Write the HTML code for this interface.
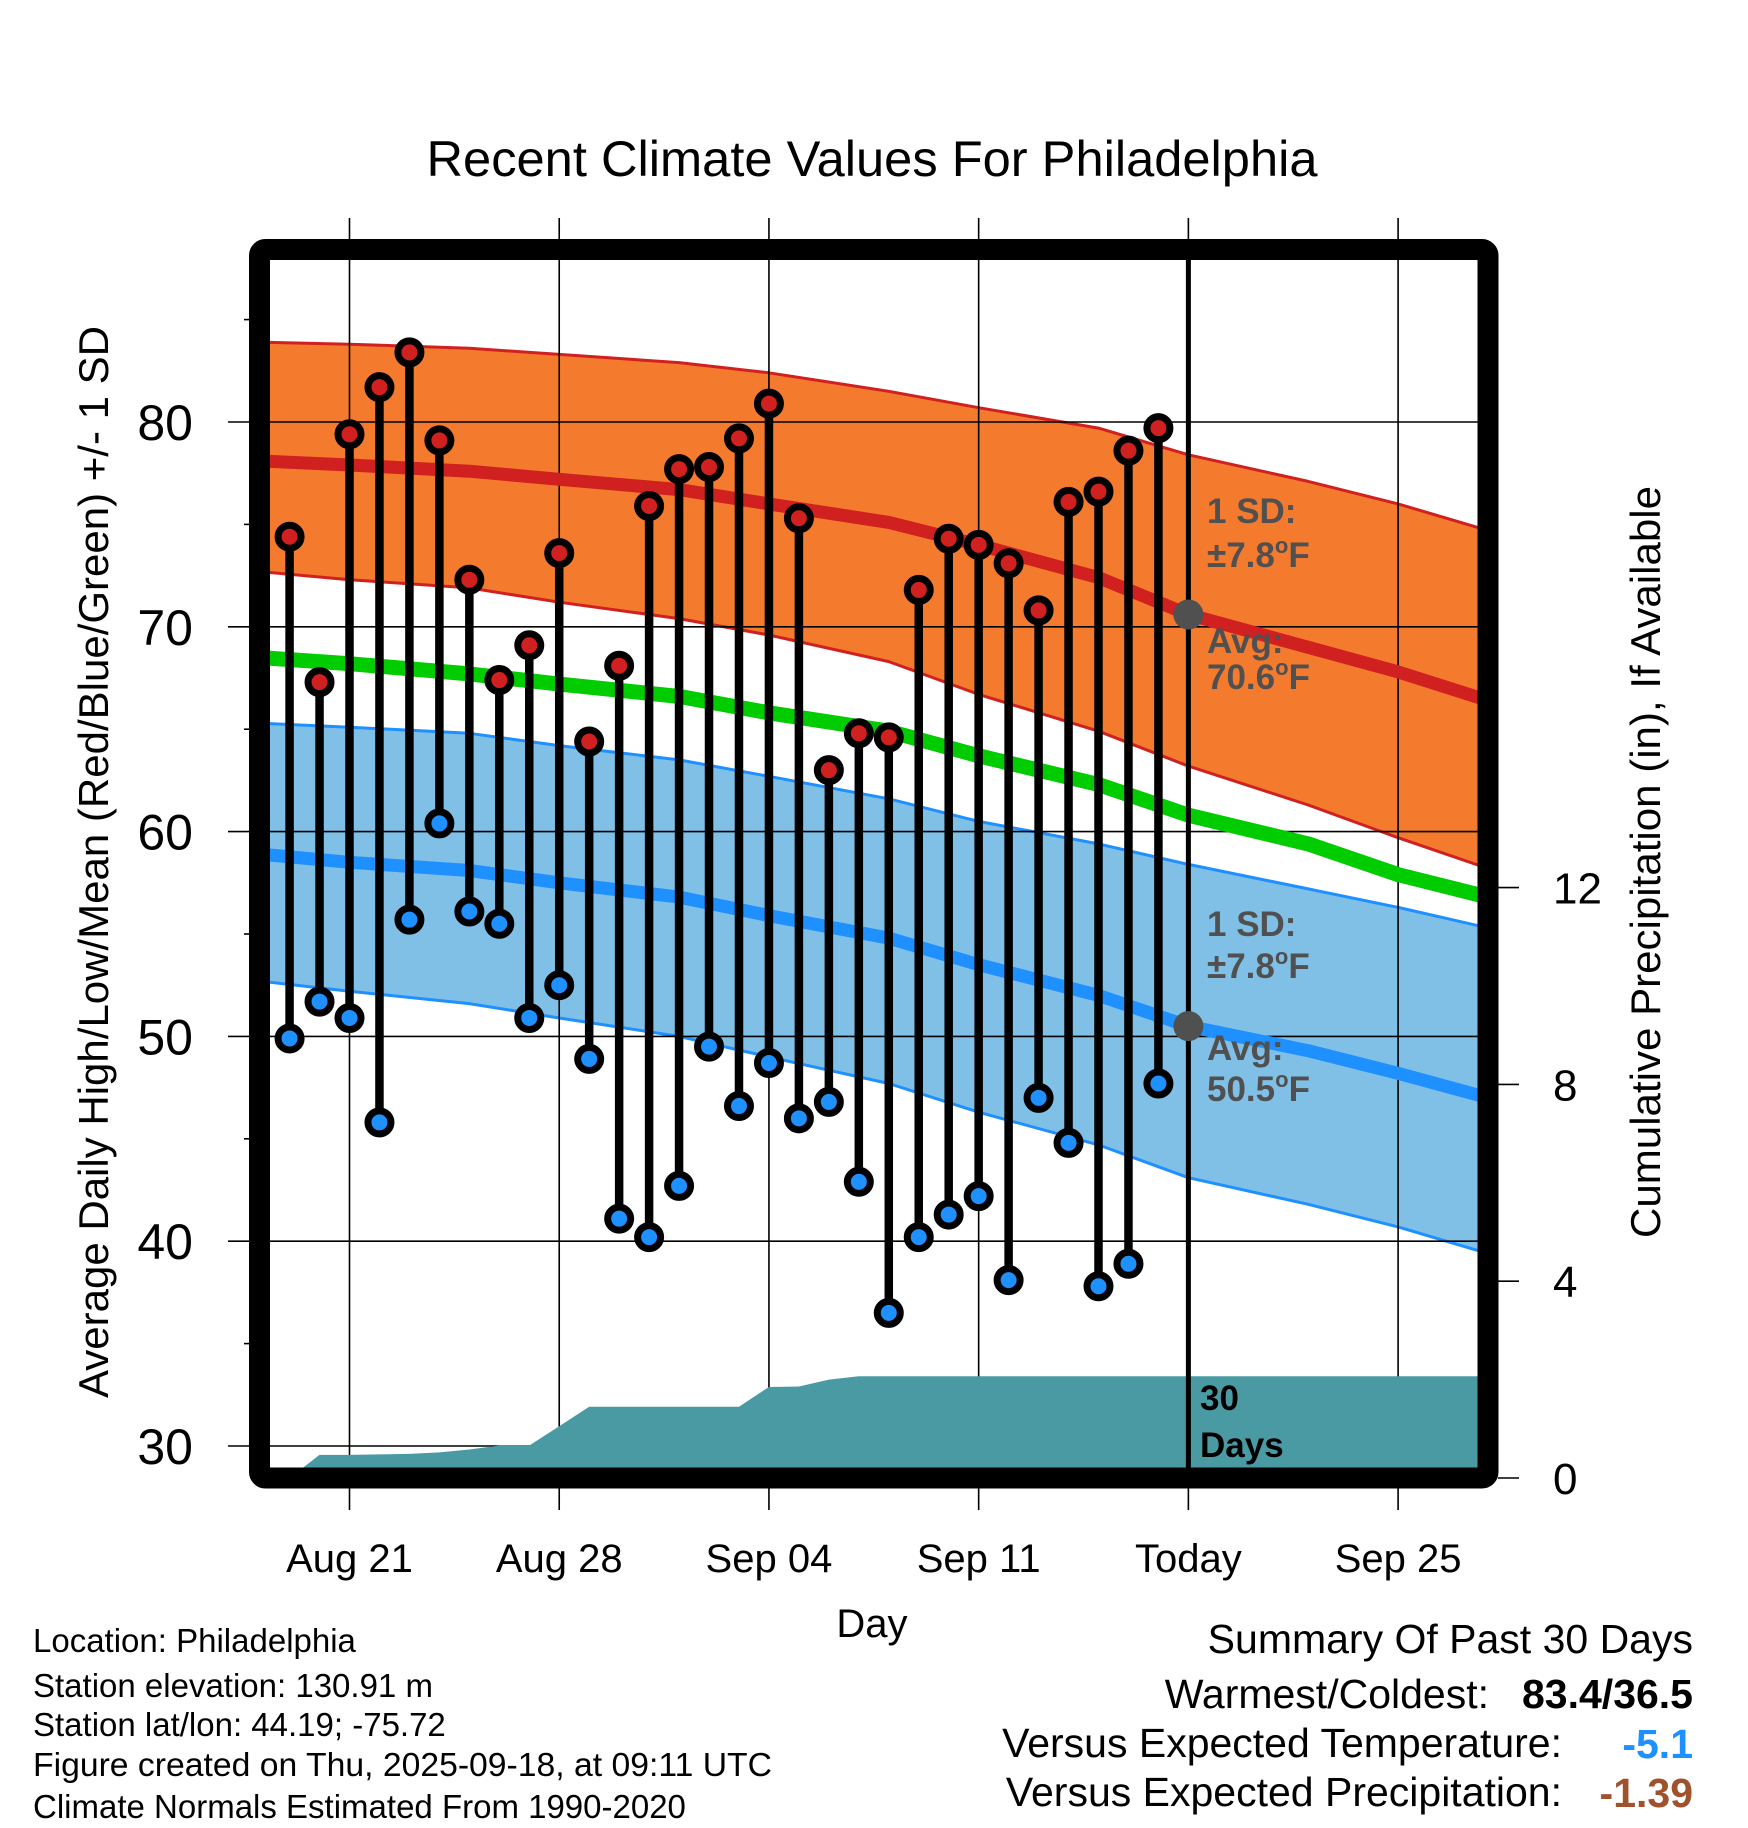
<!DOCTYPE html>
<html><head><meta charset="utf-8"><style>
html,body{margin:0;padding:0;background:#fff;}
svg{display:block;font-family:"Liberation Sans",Arial,sans-serif;}
</style></head><body>
<svg id="chart" width="1748" height="1828" viewBox="0 0 1748 1828" xmlns="http://www.w3.org/2000/svg">
<defs><clipPath id="plotclip"><rect x="270" y="260" width="1208" height="1208"/></clipPath></defs>
<text x="872" y="176" font-size="50" text-anchor="middle" textLength="891" lengthAdjust="spacingAndGlyphs">Recent Climate Values For Philadelphia</text>
<g id="bg" clip-path="url(#plotclip)"></g>
<g id="grid"></g>
<g id="fg" clip-path="url(#plotclip)"></g>
<g id="axes"></g>
<g id="marks"></g>
<g font-weight="bold" font-size="35" fill="#505050">
<text x="1207" y="523">1 SD:</text>
<text x="1207" y="567">±7.8<tspan font-size="22" dy="-14">o</tspan><tspan dy="14">F</tspan></text>
<text x="1207" y="653">Avg:</text>
<text x="1207" y="689">70.6<tspan font-size="22" dy="-14">o</tspan><tspan dy="14">F</tspan></text>
<text x="1207" y="936">1 SD:</text>
<text x="1207" y="978">±7.8<tspan font-size="22" dy="-14">o</tspan><tspan dy="14">F</tspan></text>
<text x="1207" y="1060">Avg:</text>
<text x="1207" y="1101">50.5<tspan font-size="22" dy="-14">o</tspan><tspan dy="14">F</tspan></text>
<text x="1200" y="1410" fill="#000">30</text>
<text x="1200" y="1457" fill="#000">Days</text>
</g>
<rect x="259.5" y="249.5" width="1228.5" height="1228.5" rx="6" fill="none" stroke="#000" stroke-width="21"/>
<text transform="translate(108,862) rotate(-90)" font-size="42" text-anchor="middle" textLength="1072" lengthAdjust="spacingAndGlyphs">Average Daily High/Low/Mean (Red/Blue/Green) +/- 1 SD</text>
<text transform="translate(1660,862) rotate(-90)" font-size="42" text-anchor="middle" textLength="752" lengthAdjust="spacingAndGlyphs">Cumulative Precipitation (in), If Available</text>
<text x="872" y="1637" font-size="40" text-anchor="middle">Day</text>
<g font-size="33">
<text x="33" y="1652">Location: Philadelphia</text>
<text x="33" y="1697">Station elevation: 130.91 m</text>
<text x="33" y="1736">Station lat/lon: 44.19; -75.72</text>
<text x="33" y="1776" textLength="739" lengthAdjust="spacingAndGlyphs">Figure created on Thu, 2025-09-18, at 09:11 UTC</text>
<text x="33" y="1818">Climate Normals Estimated From 1990-2020</text>
</g>
<g font-size="41">
<text x="1693" y="1653" text-anchor="end">Summary Of Past 30 Days</text>
<text x="1489" y="1708" text-anchor="end">Warmest/Coldest:</text>
<text x="1693" y="1708" text-anchor="end" font-weight="bold">83.4/36.5</text>
<text x="1562" y="1757" text-anchor="end">Versus Expected Temperature:</text>
<text x="1693" y="1758" text-anchor="end" font-weight="bold" fill="#1e90ff">-5.1</text>
<text x="1562" y="1806" text-anchor="end">Versus Expected Precipitation:</text>
<text x="1693" y="1807" text-anchor="end" font-weight="bold" fill="#a0522d">-1.39</text>
</g>
</svg>
<script>
// ---- data ----
const obsDays = [-2,-1,0,1,2,3,4,5,6,7,8,9,10,11,12,13,14,15,16,17,18,19,20,21,22,23,24,25,26,27];
const highs = [74.4,67.3,79.4,81.7,83.4,79.1,72.3,67.4,69.1,73.6,64.4,68.1,75.9,77.7,77.8,79.2,80.9,75.3,63.0,64.8,64.6,71.8,74.3,74.0,73.1,70.8,76.1,76.6,78.6,79.7];
const lows = [49.9,51.7,50.9,45.8,55.7,60.4,56.1,55.5,50.9,52.5,48.9,41.1,40.2,42.7,49.5,46.6,48.7,46.0,46.8,42.9,36.5,40.2,41.3,42.2,38.1,47.0,44.8,37.8,38.9,47.7];
const normDays = [-3,0,4,7,11,14,18,21,25,28,32,35,38];
const highUpper = [83.9,83.8,83.6,83.3,82.9,82.4,81.5,80.7,79.7,78.4,77.1,76.0,74.7];
const highMean = [78.1,77.9,77.6,77.2,76.7,76.0,75.1,74.0,72.4,70.6,69.0,67.8,66.4];
const highLower = [72.7,72.3,71.9,71.2,70.4,69.6,68.3,66.7,64.9,63.2,61.3,59.7,58.2];
const meanNormal = [68.5,68.2,67.7,67.2,66.6,65.8,64.9,63.7,62.3,60.8,59.4,57.9,56.8];
const lowUpper = [65.3,65.1,64.8,64.2,63.5,62.7,61.6,60.5,59.4,58.4,57.2,56.3,55.3];
const lowMean = [58.9,58.5,58.1,57.5,56.8,55.9,54.8,53.5,52.0,50.5,49.3,48.2,47.0];
const lowLower = [52.7,52.2,51.6,50.9,50.0,49.0,47.7,46.3,44.7,43.1,41.8,40.7,39.4];
const precipDays = [-3,-2,-1,0,1,2,3,4,5,6,7,8,13,14,15,16,17,27,38];
const precipVals = [0,0,0.47,0.47,0.48,0.49,0.52,0.58,0.66,0.66,1.05,1.45,1.45,1.85,1.86,2.0,2.07,2.07,2.07];
const dateTicks = [0,7,14,21,28,35];
const dateLabels = ["Aug 21","Aug 28","Sep 04","Sep 11","Today","Sep 25"];
const tempTicks = [30,40,50,60,70,80];
const precipTicks = [0,4,8,12];
const todayDay = 28;

// ---- scales ----
const X = d => 349.5 + d * 29.96;
const YT = t => 422 + (80 - t) * 20.48;
const YP = p => 1478 - p * 49.2;
const NS = "http://www.w3.org/2000/svg";
function mk(tag, attrs, parent){const e=document.createElementNS(NS,tag);for(const k in attrs)e.setAttribute(k,attrs[k]);parent.appendChild(e);return e;}
const pts = (days, vals, ys) => days.map((d,i)=>X(d).toFixed(1)+","+ys(vals[i]).toFixed(1));
const bg = document.getElementById('bg'), grid = document.getElementById('grid'), fg = document.getElementById('fg'), axes = document.getElementById('axes'), marks = document.getElementById('marks');

function band(up, lo, fill, edge, name){
  const p = pts(normDays, up, YT).concat(pts(normDays, lo, YT).reverse());
  const poly = mk('polygon',{points:p.join(' '),fill:fill},bg);
  
  
  [up,lo].forEach(arr=>{
    const l = mk('polyline',{points:pts(normDays,arr,YT).join(' '),fill:'none',stroke:edge,'stroke-width':3,'stroke-linejoin':'round'},bg);
    
    
  });
}
band(highUpper, highLower, '#f47a2e', '#d02020', 'high-sd-band');
band(lowUpper, lowLower, '#80c0e6', '#1e90ff', 'low-sd-band');

tempTicks.forEach(t=>{
  const l = mk('line',{x1:228,x2:1488,y1:YT(t),y2:YT(t),stroke:'#000','stroke-width':1.6},grid);
  
  
  const tx = mk('text',{x:193,y:YT(t)+18,'font-size':50,'text-anchor':'end'},axes);
  tx.textContent = t;
  
  
});
for(let t=35;t<=85;t+=10){
  const l = mk('line',{x1:244,x2:250,y1:YT(t),y2:YT(t),stroke:'#000','stroke-width':1.6},grid);
  
  
}
dateTicks.forEach((d,i)=>{
  const l = mk('line',{x1:X(d),x2:X(d),y1:218,y2:1510,stroke:'#000','stroke-width':1.6},grid);
  
  
  const tx = mk('text',{x:X(d),y:1572,'font-size':40,'text-anchor':'middle'},axes);
  tx.textContent = dateLabels[i];
  
  
});
precipTicks.forEach(p=>{
  const l = mk('line',{x1:1498,x2:1519,y1:YP(p),y2:YP(p),stroke:'#000','stroke-width':1.6},axes);
  
  
  const tx = mk('text',{x:1553,y:YP(p)+16,'font-size':44},axes);
  tx.textContent = p;
  
  
});

{
  const p = pts(precipDays, precipVals, YP);
  p.push(X(38)+","+YP(0), X(-3)+","+YP(0));
  const a = mk('polygon',{points:p.join(' '),fill:'#4a9aa4'},fg);
  
  
}
[[highMean,'#d02020',13,'high-normal-line'],[meanNormal,'#00cc00',15,'mean-normal-line'],[lowMean,'#1e90ff',13,'low-normal-line']].forEach(([arr,c,w,n])=>{
  const l = mk('polyline',{points:pts(normDays,arr,YT).join(' '),fill:'none',stroke:c,'stroke-width':w,'stroke-linejoin':'round'},fg);
  
  
});
{
  const l = mk('line',{x1:X(todayDay),x2:X(todayDay),y1:260,y2:1470,stroke:'#000','stroke-width':5},fg);
  
  
  const todayIdx = normDays.indexOf(todayDay);
  [highMean[todayIdx], lowMean[todayIdx]].forEach(v=>{
    const c = mk('circle',{cx:X(todayDay),cy:YT(v),r:15,fill:'#505050'},fg);
    
    
  });
}
obsDays.forEach((d,i)=>{
  const x = X(d);
  const s = mk('line',{x1:x,x2:x,y1:YT(highs[i]),y2:YT(lows[i]),stroke:'#000','stroke-width':8.5},marks);
  
  
  [[highs[i],'#d02020','high-dot'],[lows[i],'#1e90ff','low-dot']].forEach(([v,c,n])=>{
    const o = mk('circle',{cx:x,cy:YT(v),r:11.5,fill:c,stroke:'#000','stroke-width':7},marks);
    
    
  });
});
</script>
</body></html>
